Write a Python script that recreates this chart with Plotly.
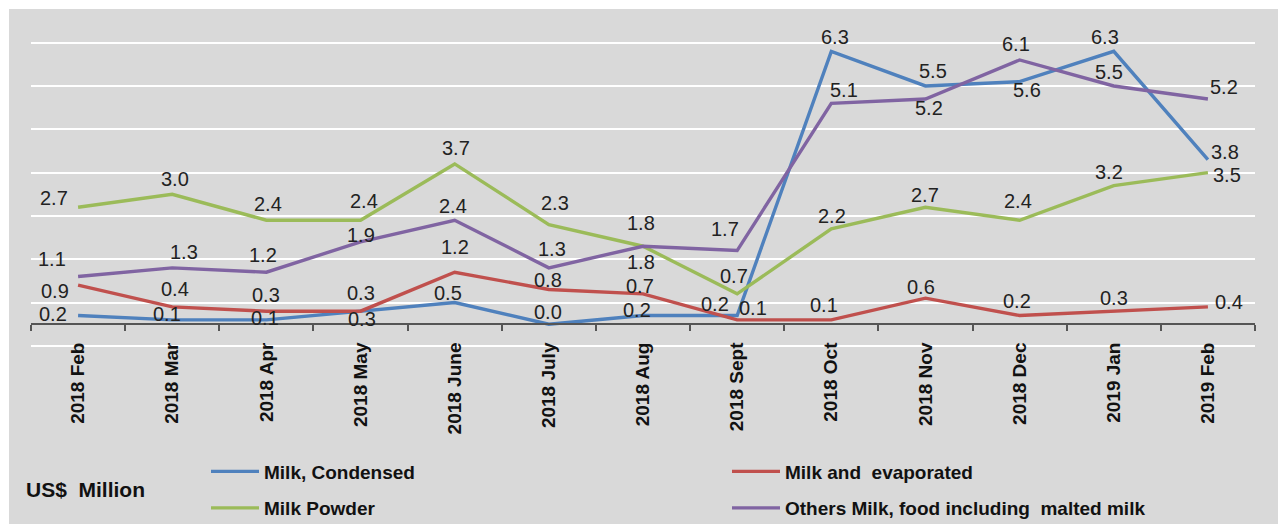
import plotly.graph_objects as go

categories = ["2018 Feb", "2018 Mar", "2018 Apr", "2018 May", "2018 June", "2018 July",
              "2018 Aug", "2018 Sept", "2018 Oct", "2018 Nov", "2018 Dec", "2019 Jan", "2019 Feb"]

condensed = [0.2, 0.1, 0.1, 0.3, 0.5, 0.0, 0.2, 0.2, 6.3, 5.5, 5.6, 6.3, 3.8]
evaporated = [0.9, 0.4, 0.3, 0.3, 1.2, 0.8, 0.7, 0.1, 0.1, 0.6, 0.2, 0.3, 0.4]
powder = [2.7, 3.0, 2.4, 2.4, 3.7, 2.3, 1.8, 0.7, 2.2, 2.7, 2.4, 3.2, 3.5]
others = [1.1, 1.3, 1.2, 1.9, 2.4, 1.3, 1.8, 1.7, 5.1, 5.2, 6.1, 5.5, 5.2]

series_names = ["Milk, Condensed", "Milk and\u00a0 evaporated", "Milk Powder",
                "Others Milk, food including\u00a0 malted milk"]

# label offsets in screen pixels (dx right, dy down) -- styling only
off_condensed = [(-25, -2), (-5, -6), (-1, -2), (1, 8), (-7, -10), (-1, -12), (-6, -6),
                 (-22, -12), (4, -14), (8, -15), (7, 8), (-9, -14), (17, -8)]
off_evaporated = [(-23, 6), (3, -18), (0, -16), (0, -18), (0, -25), (-1, -10), (-3, -8),
                  (16, -12), (-7, -15), (-4, -11), (-3, -15), (0, -13), (21, -5)]
off_powder = [(-24, -9), (3, -15), (2, -16), (3, -19), (1, -16), (6, -22), (-2, 16),
              (-3, -18), (1, -13), (0, -12), (-2, -19), (-5, -14), (19, 2)]
off_others = [(-26, -18), (12, -16), (-3, -17), (0, -7), (-2, -14), (3, -19), (-2, -23),
              (-12, -22), (13, -13), (4, 9), (-4, -16), (-5, -14), (16, -12)]

colors = ["#4F81BD", "#C0504D", "#9BBB59", "#8064A2"]
legends = ["legend", "legend", "legend2", "legend2"]

W, H = 1286, 524
ML, MR, MT, MB = 31, 31, 21, 176
YMIN, YMAX = -0.55, 7.0
BG = "#D9D9D9"
FONT = "Liberation Sans, Arial, sans-serif"

fig = go.Figure()
all_series = [condensed, evaporated, powder, others]
all_offsets = [off_condensed, off_evaporated, off_powder, off_others]

for name, vals, col, lg in zip(series_names, all_series, colors, legends):
    fig.add_trace(go.Scatter(
        x=categories, y=vals, mode="lines", name=name,
        line=dict(color=col, width=3.4), legend=lg, hoverinfo="x+y"))

annotations = []
for vals, offs in zip(all_series, all_offsets):
    for c, v, (dx, dy) in zip(categories, vals, offs):
        annotations.append(dict(
            x=c, y=v, xref="x", yref="y", text=f"{v:.1f}", showarrow=False,
            xanchor="center", yanchor="middle", xshift=dx, yshift=-dy,
            font=dict(family=FONT, size=20, color="#222222")))

plot_h = H - MT - MB
plot_w = W - ML - MR

def px_to_paper_x(px):
    return (px - ML) / plot_w

def px_to_paper_y(py):
    return (H - MB - py) / plot_h

annotations.append(dict(
    x=px_to_paper_x(24), y=px_to_paper_y(489), xref="paper", yref="paper",
    text="US$\u00a0 Million", showarrow=False, xanchor="left", yanchor="middle",
    font=dict(family=FONT, size=21, color="#111111", weight="bold")))

zero_pos = (0 - YMIN) / (YMAX - YMIN)

legend_style = dict(
    orientation="h", xanchor="left", yanchor="middle", entrywidth=458, itemwidth=48,
    bgcolor="rgba(0,0,0,0)",
    font=dict(family=FONT, size=19, color="#111111", weight="bold"))

fig.update_layout(
    width=W, height=H,
    margin=dict(l=ML, r=MR, t=MT, b=MB, autoexpand=False),
    paper_bgcolor="white", plot_bgcolor=BG,
    font=dict(family=FONT, color="#111111"),
    xaxis=dict(
        type="category", categoryorder="array", categoryarray=categories,
        range=[-0.5, len(categories) - 0.5],
        anchor="free", position=zero_pos,
        showline=True, linecolor="#555555", linewidth=1.5,
        ticks="outside", tickson="boundaries", ticklen=6, tickcolor="#555555", tickwidth=1.5,
        showgrid=False, tickangle=-90, ticklabelstandoff=10,
        tickfont=dict(family=FONT, size=19, color="#111111", weight="bold"),
        automargin=False, fixedrange=True),
    yaxis=dict(
        range=[YMIN, YMAX], tick0=-0.5, dtick=1, showticklabels=False,
        showgrid=True, gridcolor="white", gridwidth=1.6, zeroline=False,
        showline=False, ticks="", automargin=False, fixedrange=True),
    legend=dict(x=px_to_paper_x(206), y=px_to_paper_y(471.5), **legend_style),
    legend2=dict(x=px_to_paper_x(206), y=px_to_paper_y(508), **legend_style),
    shapes=[dict(type="rect", xref="paper", yref="paper", layer="below",
                 x0=px_to_paper_x(9), x1=px_to_paper_x(1278),
                 y0=px_to_paper_y(540), y1=px_to_paper_y(9),
                 fillcolor=BG, line=dict(width=0))],
    annotations=annotations,
    showlegend=True,
)

fig.write_html("out.html", config={"displayModeBar": False},
               post_script="document.body.style.margin='0';document.body.style.padding='0';")
